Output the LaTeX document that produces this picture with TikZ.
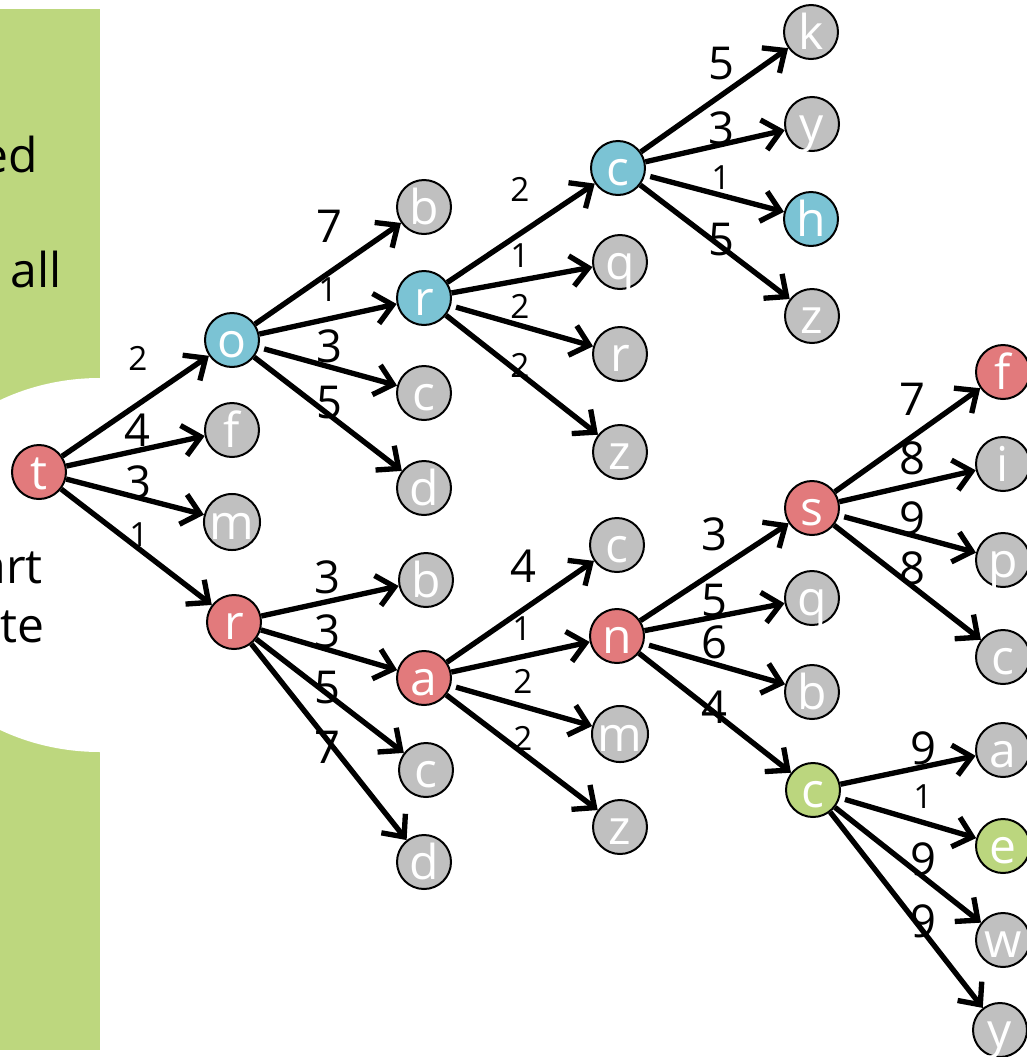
\documentclass[tikz,border=0pt]{standalone}
\usepackage{fontspec}
\setmainfont{Open Sans}
\usetikzlibrary{arrows.meta}
\definecolor{panelgreen}{RGB}{189,215,126}
\definecolor{nodered}{RGB}{226,122,124}
\definecolor{nodeblue}{RGB}{123,195,212}
\definecolor{nodegreen}{RGB}{187,214,126}
\definecolor{nodegray}{RGB}{192,192,192}
\tikzset{
  nd/.style={circle, draw=black, line width=1.5pt, minimum size=40.5pt, inner sep=0pt,
    text=white, font=\fontsize{36}{36}\selectfont, text height=25.5pt, text depth=0pt},
  graynode/.style={nd, fill=nodegray},
  rednode/.style={nd, fill=nodered},
  bluenode/.style={nd, fill=nodeblue},
  greennode/.style={nd, fill=nodegreen},
  arr/.style={-{Straight Barb[length=13pt,width=23pt]}, line width=4pt},
  gap/.style={shorten <=4pt},
  lab/.style={font=\fontsize{34}{34}\selectfont, inner sep=0pt},
  labs/.style={font=\fontsize{25}{25}\selectfont, inner sep=0pt},
  side/.style={font=\fontsize{36}{36}\selectfont, inner sep=0pt, anchor=base east},
}
\begin{document}
\begin{tikzpicture}[x=0.75pt, y=-0.75pt]
\useasboundingbox (0,0) rectangle (1026,1057);
% side panel with its white bubble
\fill[panelgreen] (0,9) rectangle (100,1050);
\fill[white] (100,565) ellipse [x radius=212, y radius=187];
\node[side] (tx1) at (38,172) {ed};
\node[side] (tx2) at (62,287) {all};
\node[side] (tx3) at (43,583) {art};
\node[side] (tx4) at (45,642) {ate};

% level 0 and 1
\node[rednode]  (t)  at (39,472)  {t};
\node[bluenode] (o)  at (232,340) {o};
\node[graynode] (f1) at (232,430) {f};
\node[graynode] (m1) at (232,522) {m};
\node[rednode]  (r1) at (234,622) {r};
% level 2
\node[graynode] (b1) at (424,207) {b};
\node[bluenode] (r2) at (424,298) {r};
\node[graynode] (c1) at (424,393) {c};
\node[graynode] (d1) at (424,488) {d};
\node[graynode] (b2) at (426,580) {b};
\node[rednode]  (a1) at (424,678) {a};
\node[graynode] (c2) at (426,770) {c};
\node[graynode] (d2) at (424,862) {d};
% level 3
\node[bluenode] (c3) at (618,168) {c};
\node[graynode] (q1) at (620,262) {q};
\node[graynode] (r3) at (620,354) {r};
\node[graynode] (z1) at (620,452) {z};
\node[graynode] (c4) at (617,545) {c};
\node[rednode]  (n1) at (617,636) {n};
\node[graynode] (m2) at (620,734) {m};
\node[graynode] (z2) at (620,827) {z};
% level 4
\node[graynode] (k1) at (811,32)  {k};
\node[graynode] (y1) at (812,124) {y};
\node[bluenode] (h1) at (811,219) {h};
\node[graynode] (z3) at (812,316) {z};
\node[rednode]  (s1) at (812,508) {s};
\node[graynode] (q2) at (812,598) {q};
\node[graynode] (b3) at (812,692) {b};
\node[greennode](c5) at (813,790) {c};
% level 5
\node[rednode]  (f2) at (1003,372) {f};
\node[graynode] (i1) at (1003,464) {i};
\node[graynode] (p1) at (1003,560) {p};
\node[graynode] (c6) at (1003,657) {c};
\node[graynode] (a2) at (1003,750) {a};
\node[greennode](e1) at (1003,846) {e};
\node[graynode] (w1) at (1003,940) {w};
\node[graynode] (y2) at (1000,1030) {y};

% edges
\draw[arr] (t) -- (o);   \draw[arr] (t) -- (f1);
\draw[arr] (t) -- (m1);  \draw[arr] (t) -- (r1);
\draw[arr] (o) -- (b1);  \draw[arr] (o) -- (r2);
\draw[arr,gap] (o) -- (c1); \draw[arr] (o) -- (d1);
\draw[arr] (r1) -- (b2); \draw[arr] (r1) -- (a1);
\draw[arr] (r1) -- (c2); \draw[arr] (r1) -- (d2);
\draw[arr] (r2) -- (c3); \draw[arr] (r2) -- (q1);
\draw[arr,gap] (r2) -- (r3); \draw[arr] (r2) -- (z1);
\draw[arr] (a1) -- (c4); \draw[arr] (a1) -- (n1);
\draw[arr,gap] (a1) -- (m2); \draw[arr] (a1) -- (z2);
\draw[arr] (c3) -- (k1); \draw[arr] (c3) -- (y1);
\draw[arr,gap] (c3) -- (h1); \draw[arr] (c3) -- (z3);
\draw[arr] (n1) -- (s1); \draw[arr] (n1) -- (q2);
\draw[arr,gap] (n1) -- (b3); \draw[arr] (n1) -- (c5);
\draw[arr] (s1) -- (f2); \draw[arr] (s1) -- (i1);
\draw[arr,gap] (s1) -- (p1); \draw[arr] (s1) -- (c6);
\draw[arr] (c5) -- (a2); \draw[arr,gap] (c5) -- (e1);
\draw[arr] (c5) -- (w1); \draw[arr] (c5) -- (y2);

% edge weights
\node[labs] (w01) at (138,358) {2};
\node[lab]  (w02) at (137,430) {4};
\node[lab]  (w03) at (138,482) {3};
\node[labs] (w04) at (139,535) {1};
\node[lab]  (w05) at (329,226) {7};
\node[labs] (w06) at (328,290) {1};
\node[lab]  (w07) at (329,346) {3};
\node[lab]  (w08) at (329,403) {5};
\node[lab]  (w09) at (327,577) {3};
\node[lab]  (w10) at (327,631) {3};
\node[lab]  (w11) at (327,688) {5};
\node[lab]  (w12) at (327,747) {7};
\node[labs] (w13) at (520,189) {2};
\node[labs] (w14) at (520,256) {1};
\node[labs] (w15) at (520,306) {2};
\node[labs] (w16) at (520,365) {2};
\node[lab]  (w17) at (523,566) {4};
\node[labs] (w18) at (522,629) {1};
\node[labs] (w19) at (523,681) {2};
\node[labs] (w20) at (523,738) {2};
\node[lab]  (w21) at (721,64)  {5};
\node[lab]  (w22) at (721,128) {3};
\node[labs] (w23) at (721,178) {1};
\node[lab]  (w24) at (721,240) {5};
\node[lab]  (w25) at (714,534) {3};
\node[lab]  (w26) at (714,601) {5};
\node[lab]  (w27) at (714,642) {6};
\node[lab]  (w28) at (714,707) {4};
\node[lab]  (w29) at (912,399) {7};
\node[lab]  (w30) at (912,458) {8};
\node[lab]  (w31) at (912,518) {9};
\node[lab]  (w32) at (912,568) {8};
\node[lab]  (w33) at (923,748) {9};
\node[labs] (w34) at (923,797) {1};
\node[lab]  (w35) at (923,859) {9};
\node[lab]  (w36) at (923,921) {9};
\end{tikzpicture}
\end{document}
